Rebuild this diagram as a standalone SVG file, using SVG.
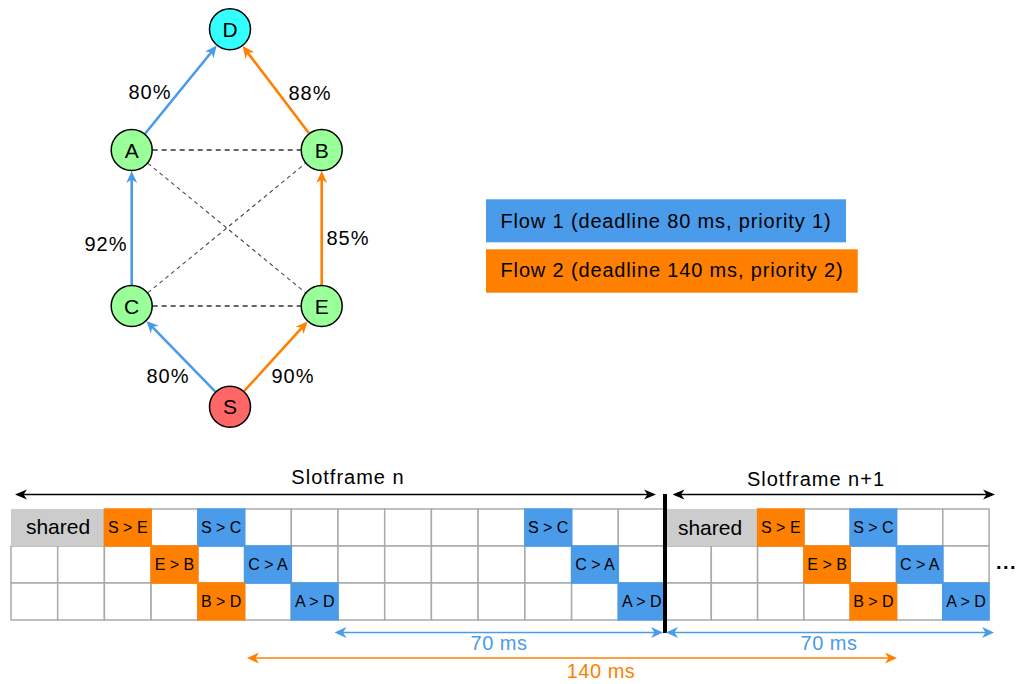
<svg xmlns="http://www.w3.org/2000/svg" width="1019" height="684" viewBox="0 0 1019 684">
<style>
text{font-family:"Liberation Sans",Arial,Helvetica,sans-serif;fill:#000}
.node{stroke:#000;stroke-width:1.5}
.nl{font-size:21px;text-anchor:middle}
.pct{font-size:20px;text-anchor:middle;letter-spacing:1px}
.blue{stroke:#4A9BE9;fill:none}
.orange{stroke:#FF8000;fill:none}
.edge{stroke-width:2.6}
.dash1{stroke:#333;stroke-width:1.4;stroke-dasharray:5 4;fill:none}
.dash2{stroke:#444;stroke-width:1.1;stroke-dasharray:4 3.5;fill:none}
.legend{font-size:20px;text-anchor:middle;letter-spacing:0.85px}
.w{fill:#fff;stroke:#aaa;stroke-width:1.5}
.g{fill:#ccc;stroke:#ccc;stroke-width:1.5}
.o{fill:#FF8000;stroke:#FF8000;stroke-width:1.5}
.b{fill:#4A9BE9;stroke:#4A9BE9;stroke-width:1.5}
.cl{font-size:16px;text-anchor:middle}
.sh{font-size:21px;text-anchor:middle}
.sf{font-size:20px;text-anchor:middle;letter-spacing:1px}
.ms{font-size:20px;text-anchor:middle;letter-spacing:0.5px}
</style>
<defs>
<marker id="mBlue" viewBox="-12 -6 12 12" markerWidth="12" markerHeight="12" refX="-8" refY="0" orient="auto-start-reverse" markerUnits="userSpaceOnUse"><path d="M0,0 L-12,-5.5 L-8.5,0 L-12,5.5 Z" fill="#4A9BE9"/></marker>
<marker id="mOrange" viewBox="-12 -6 12 12" markerWidth="12" markerHeight="12" refX="-8" refY="0" orient="auto-start-reverse" markerUnits="userSpaceOnUse"><path d="M0,0 L-12,-5.5 L-8.5,0 L-12,5.5 Z" fill="#FF8000"/></marker>
<marker id="mBlack" viewBox="-12 -6 12 12" markerWidth="12" markerHeight="12" refX="-8" refY="0" orient="auto-start-reverse" markerUnits="userSpaceOnUse"><path d="M0,0 L-12,-5 L-8.5,0 L-12,5 Z" fill="#000"/></marker>
</defs>
<rect width="1019" height="684" fill="#fff"/>

<g id="connectors">
<line class="dash1" x1="152.7" y1="150" x2="300.7" y2="150"/>
<line class="dash1" x1="152.7" y1="306" x2="300.7" y2="306"/>
<line class="dash2" x1="148" y1="163.3" x2="305.5" y2="292.7"/>
<line class="dash2" x1="148" y1="292.7" x2="305.5" y2="163.3"/>
<line class="blue edge" x1="145" y1="133.7" x2="211.7" y2="51.8" marker-end="url(#mBlue)"/>
<line class="orange edge" x1="309" y1="133.3" x2="247.5" y2="52.4" marker-end="url(#mOrange)"/>
<line class="blue edge" x1="131.7" y1="285" x2="131.7" y2="179" marker-end="url(#mBlue)"/>
<line class="orange edge" x1="321.7" y1="285" x2="321.7" y2="179" marker-end="url(#mOrange)"/>
<line class="blue edge" x1="215.3" y1="391.7" x2="152" y2="326.7" marker-end="url(#mBlue)"/>
<line class="orange edge" x1="244.1" y1="391.2" x2="302.2" y2="327.4" marker-end="url(#mOrange)"/>
<text class="pct" x="150" y="99">80%</text>
<text class="pct" x="310" y="100">88%</text>
<text class="pct" x="106" y="251">92%</text>
<text class="pct" x="348" y="245">85%</text>
<text class="pct" x="168" y="383">80%</text>
<text class="pct" x="293" y="383">90%</text>
</g>

<g id="node-D"><circle class="node" cx="230" cy="29.3" r="20.5" fill="#33FFFF"/><text class="nl" x="230" y="36.8">D</text></g>
<g id="node-A"><circle class="node" cx="131.7" cy="150" r="20.5" fill="#99FF99"/><text class="nl" x="131.7" y="157.5">A</text></g>
<g id="node-B"><circle class="node" cx="321.7" cy="150" r="20.5" fill="#99FF99"/><text class="nl" x="321.7" y="157.5">B</text></g>
<g id="node-C"><circle class="node" cx="131.7" cy="306" r="20.5" fill="#99FF99"/><text class="nl" x="131.7" y="313.5">C</text></g>
<g id="node-E"><circle class="node" cx="321.7" cy="306" r="20.5" fill="#99FF99"/><text class="nl" x="321.7" y="313.5">E</text></g>
<g id="node-S"><circle class="node" cx="230" cy="406.7" r="20.5" fill="#FF6666"/><text class="nl" x="230" y="414.2">S</text></g>

<g id="legend">
<rect x="486" y="199.3" width="360" height="43" fill="#4A9BE9"/>
<text class="legend" x="666" y="228">Flow 1 (deadline 80 ms, priority 1)</text>
<rect x="486" y="249.3" width="371.7" height="43.4" fill="#FF8000"/>
<text class="legend" x="672" y="277">Flow 2 (deadline 140 ms, priority 2)</text>
</g>

<g id="slotframe-n">
<rect class="w" x="151.1" y="509" width="46.7" height="37"/>
<rect class="w" x="244.6" y="509" width="46.7" height="37"/>
<rect class="w" x="291.3" y="509" width="46.7" height="37"/>
<rect class="w" x="338" y="509" width="46.7" height="37"/>
<rect class="w" x="384.7" y="509" width="46.7" height="37"/>
<rect class="w" x="431.4" y="509" width="46.7" height="37"/>
<rect class="w" x="478.1" y="509" width="46.7" height="37"/>
<rect class="w" x="571.6" y="509" width="46.7" height="37"/>
<rect class="w" x="618.3" y="509" width="46.7" height="37"/>
<rect class="w" x="11" y="546" width="46.7" height="37"/>
<rect class="w" x="57.7" y="546" width="46.7" height="37"/>
<rect class="w" x="104.4" y="546" width="46.7" height="37"/>
<rect class="w" x="197.9" y="546" width="46.7" height="37"/>
<rect class="w" x="291.3" y="546" width="46.7" height="37"/>
<rect class="w" x="338" y="546" width="46.7" height="37"/>
<rect class="w" x="384.7" y="546" width="46.7" height="37"/>
<rect class="w" x="431.4" y="546" width="46.7" height="37"/>
<rect class="w" x="478.1" y="546" width="46.7" height="37"/>
<rect class="w" x="524.9" y="546" width="46.7" height="37"/>
<rect class="w" x="618.3" y="546" width="46.7" height="37"/>
<rect class="w" x="11" y="583" width="46.7" height="37"/>
<rect class="w" x="57.7" y="583" width="46.7" height="37"/>
<rect class="w" x="104.4" y="583" width="46.7" height="37"/>
<rect class="w" x="151.1" y="583" width="46.7" height="37"/>
<rect class="w" x="244.6" y="583" width="46.7" height="37"/>
<rect class="w" x="338" y="583" width="46.7" height="37"/>
<rect class="w" x="384.7" y="583" width="46.7" height="37"/>
<rect class="w" x="431.4" y="583" width="46.7" height="37"/>
<rect class="w" x="478.1" y="583" width="46.7" height="37"/>
<rect class="w" x="524.9" y="583" width="46.7" height="37"/>
<rect class="w" x="571.6" y="583" width="46.7" height="37"/>
<rect class="g" x="11.75" y="509.75" width="92.7" height="35.5"/>
<text class="sh" x="58" y="534">shared</text>
<rect class="o" x="104.4" y="509" width="46.7" height="37"/>
<text class="cl" x="127.8" y="533">S &gt; E</text>
<rect class="b" x="197.9" y="509" width="46.7" height="37"/>
<text class="cl" x="221.2" y="533">S &gt; C</text>
<rect class="b" x="524.9" y="509" width="46.7" height="37"/>
<text class="cl" x="548.2" y="533">S &gt; C</text>
<rect class="o" x="151.1" y="546" width="46.7" height="37"/>
<text class="cl" x="174.5" y="570">E &gt; B</text>
<rect class="b" x="244.6" y="546" width="46.7" height="37"/>
<text class="cl" x="268" y="570">C &gt; A</text>
<rect class="b" x="571.6" y="546" width="46.7" height="37"/>
<text class="cl" x="595" y="570">C &gt; A</text>
<rect class="o" x="197.9" y="583" width="46.7" height="37"/>
<text class="cl" x="221.2" y="607">B &gt; D</text>
<rect class="b" x="291.3" y="583" width="46.7" height="37"/>
<text class="cl" x="314.7" y="607">A &gt; D</text>
<rect class="b" x="618.3" y="583" width="46.7" height="37"/>
<text class="cl" x="641.7" y="607">A &gt; D</text>
</g>

<g id="slotframe-n1">
<rect class="w" x="803.9" y="509" width="46.3" height="37"/>
<rect class="w" x="896.5" y="509" width="46.3" height="37"/>
<rect class="w" x="942.8" y="509" width="46.3" height="37"/>
<rect class="w" x="665" y="546" width="46.3" height="37"/>
<rect class="w" x="711.3" y="546" width="46.3" height="37"/>
<rect class="w" x="757.6" y="546" width="46.3" height="37"/>
<rect class="w" x="850.2" y="546" width="46.3" height="37"/>
<rect class="w" x="942.8" y="546" width="46.3" height="37"/>
<rect class="w" x="665" y="583" width="46.3" height="37"/>
<rect class="w" x="711.3" y="583" width="46.3" height="37"/>
<rect class="w" x="757.6" y="583" width="46.3" height="37"/>
<rect class="w" x="803.9" y="583" width="46.3" height="37"/>
<rect class="w" x="896.5" y="583" width="46.3" height="37"/>
<rect class="g" x="665.75" y="509.75" width="91.85" height="35.5"/>
<text class="sh" x="710" y="535">shared</text>
<rect class="o" x="757.6" y="509" width="46.3" height="37"/>
<text class="cl" x="780.8" y="533">S &gt; E</text>
<rect class="b" x="850.2" y="509" width="46.3" height="37"/>
<text class="cl" x="873.4" y="533">S &gt; C</text>
<rect class="o" x="803.9" y="546" width="46.3" height="37"/>
<text class="cl" x="827.1" y="570">E &gt; B</text>
<rect class="b" x="896.5" y="546" width="46.3" height="37"/>
<text class="cl" x="919.7" y="570">C &gt; A</text>
<rect class="o" x="850.2" y="583" width="46.3" height="37"/>
<text class="cl" x="873.4" y="607">B &gt; D</text>
<rect class="b" x="942.8" y="583" width="46.3" height="37"/>
<text class="cl" x="966" y="607">A &gt; D</text>
<text x="996" y="569" style="font-size:20px;font-weight:bold;letter-spacing:1.5px">...</text>
</g>

<g id="timeline">
<line x1="665" y1="494" x2="665" y2="633" stroke="#000" stroke-width="4"/>
<line x1="23" y1="494.5" x2="648" y2="494.5" stroke="#000" stroke-width="1.5" marker-start="url(#mBlack)" marker-end="url(#mBlack)"/>
<line x1="680.5" y1="494.5" x2="987" y2="494.5" stroke="#000" stroke-width="1.5" marker-start="url(#mBlack)" marker-end="url(#mBlack)"/>
<text class="sf" x="348" y="484">Slotframe n</text>
<text class="sf" x="816" y="486">Slotframe n+1</text>
<line class="blue" x1="342.5" y1="632.5" x2="655" y2="632.5" stroke-width="1.5" marker-start="url(#mBlue)" marker-end="url(#mBlue)"/>
<line class="blue" x1="674" y1="632.5" x2="986" y2="632.5" stroke-width="1.5" marker-start="url(#mBlue)" marker-end="url(#mBlue)"/>
<text class="ms" x="499" y="650" style="fill:#4A9BE9">70 ms</text>
<text class="ms" x="829" y="650" style="fill:#4A9BE9">70 ms</text>
<line class="orange" x1="255" y1="658" x2="889" y2="658" stroke-width="1.5" marker-start="url(#mOrange)" marker-end="url(#mOrange)"/>
<text class="ms" x="601" y="678" style="fill:#FF8000">140 ms</text>
</g>
</svg>
